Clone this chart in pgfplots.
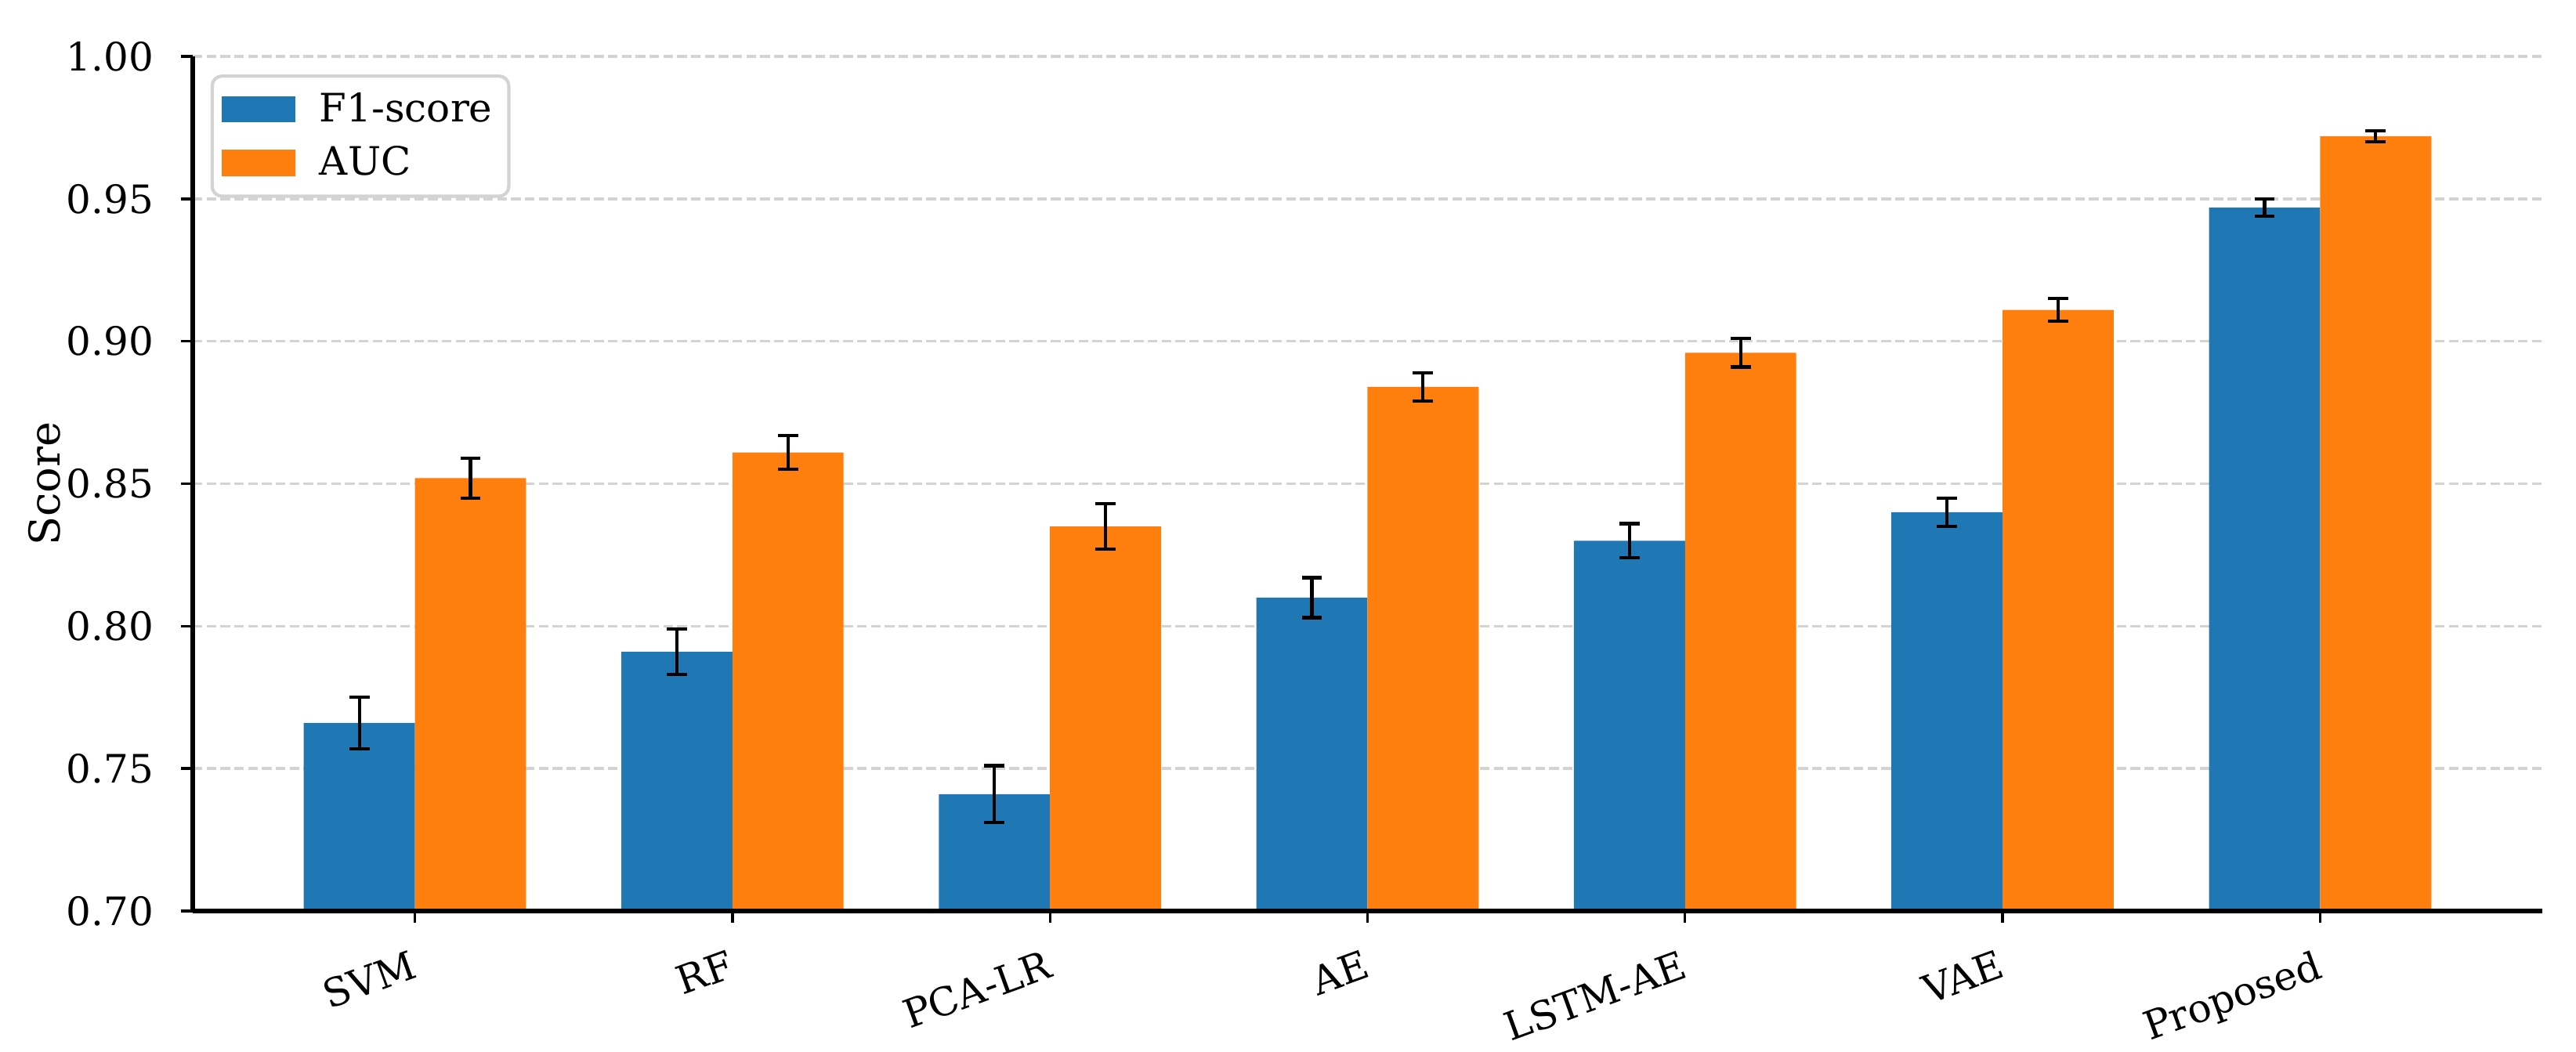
\documentclass[border=0pt]{standalone}
\usepackage{fontspec}
\setmainfont{DejaVu Serif}
\usepackage{pgfplots}
\usepackage{pgfplotstable}
\pgfplotsset{compat=1.18}
\definecolor{tabblue}{HTML}{1F77B4}
\definecolor{taborange}{HTML}{FF7F0E}
\definecolor{gridgray}{HTML}{D3D3D3}
\pgfplotsset{
 layers/mylayers/.define layer set={
   axis background,axis grid,pre main,main,axis ticks,axis lines,axis tick labels,
   axis descriptions,axis foreground
 }{
   grid style={/pgfplots/on layer=axis grid},
   tick style={/pgfplots/on layer=axis ticks},
   axis line style={/pgfplots/on layer=axis lines},
   label style={/pgfplots/on layer=axis descriptions},
   legend style={/pgfplots/on layer=axis descriptions},
   title style={/pgfplots/on layer=axis descriptions},
   colorbar style={/pgfplots/on layer=axis descriptions},
   ticklabel style={/pgfplots/on layer=axis tick labels},
   axis background@ style={/pgfplots/on layer=axis background},
   3d box foreground style={/pgfplots/on layer=axis foreground},
 },
}
\pgfplotstableread{
x f1 f1err auc aucerr
0 0.766 0.009 0.852 0.007
1 0.791 0.008 0.861 0.006
2 0.741 0.010 0.835 0.008
3 0.810 0.007 0.884 0.005
4 0.830 0.006 0.896 0.005
5 0.840 0.005 0.911 0.004
6 0.947 0.003 0.972 0.002
}\scores
\begin{document}
\begin{tikzpicture}
\begin{axis}[
  set layers=mylayers,
  scale only axis, width=719.8pt, height=261.8pt,
  xmin=-0.7, xmax=6.7, ymin=0.70, ymax=1.00,
  axis x line*=bottom, axis y line*=left,
  axis line style={-, line width=1.3pt, black},
  xtick={0,1,2,3,4,5,6},
  xticklabels={SVM,RF,PCA-LR,AE,LSTM-AE,VAE,Proposed},
  ytick={0.70,0.75,0.80,0.85,0.90,0.95,1.00},
  /pgf/number format/assume math mode=true,
  yticklabel style={/pgf/number format/fixed, /pgf/number format/fixed zerofill, /pgf/number format/precision=2,
    anchor=east, inner sep=0pt, xshift=-8.2pt},
  scaled y ticks=false,
  tick align=outside, major tick length=3.5pt,
  tick style={black, line width=0.8pt},
  tick label style={font=\fontsize{12}{14}\selectfont},
  xticklabel style={xshift=-1.7pt, yshift=-8pt, rotate=20, anchor=north east, inner sep=0pt},
  ymajorgrids=true,
  grid style={dash pattern=on 2.96pt off 1.28pt, line width=0.8pt, gridgray},
  ylabel={Score},
  ylabel style={font=\fontsize{13}{15}\selectfont, at={(axis description cs:-0.0629,0.5)}, anchor=center, rotate=0},
  legend cell align=left,
  legend style={at={(axis description cs:0,1)}, anchor=north west, xshift=5.5pt, yshift=-5.5pt,
    draw=gridgray, line width=1pt, rounded corners=3pt, fill=white,
    font=\fontsize{12}{14}\selectfont, inner xsep=3pt, inner ysep=3pt,
    nodes={inner sep=2pt}, row sep=2pt,
    /tikz/every odd column/.style={column sep=5.4pt}},
]
\addplot[ybar, bar width=0.35, bar shift=0pt, fill=tabblue, draw=none,
  legend image code/.code={\fill[tabblue, sharp corners] (0pt,-4pt) rectangle (22.5pt,4pt);},
  error bars/.cd, y dir=both, y explicit,
  error bar style={line width=1pt, black, solid},
  error mark options={rotate=90, mark size=3.1pt, line width=1pt, black, solid}]
  table[x expr=\thisrow{x}-0.175, y=f1, y error=f1err]{\scores};
\addlegendentry{F1-score}
\addplot[ybar, bar width=0.35, bar shift=0pt, fill=taborange, draw=none,
  legend image code/.code={\fill[taborange, sharp corners] (0pt,-4pt) rectangle (22.5pt,4pt);},
  error bars/.cd, y dir=both, y explicit,
  error bar style={line width=1pt, black, solid},
  error mark options={rotate=90, mark size=3.1pt, line width=1pt, black, solid}]
  table[x expr=\thisrow{x}+0.175, y=auc, y error=aucerr]{\scores};
\addlegendentry{AUC}
\coordinate (bl) at (rel axis cs:0,0);
\coordinate (tr) at (rel axis cs:1,1);
\end{axis}
\pgfresetboundingbox
\path[use as bounding box] ([xshift=-59pt,yshift=-43pt]bl) rectangle ([xshift=10.3pt,yshift=17.3pt]tr);
\end{tikzpicture}
\end{document}
